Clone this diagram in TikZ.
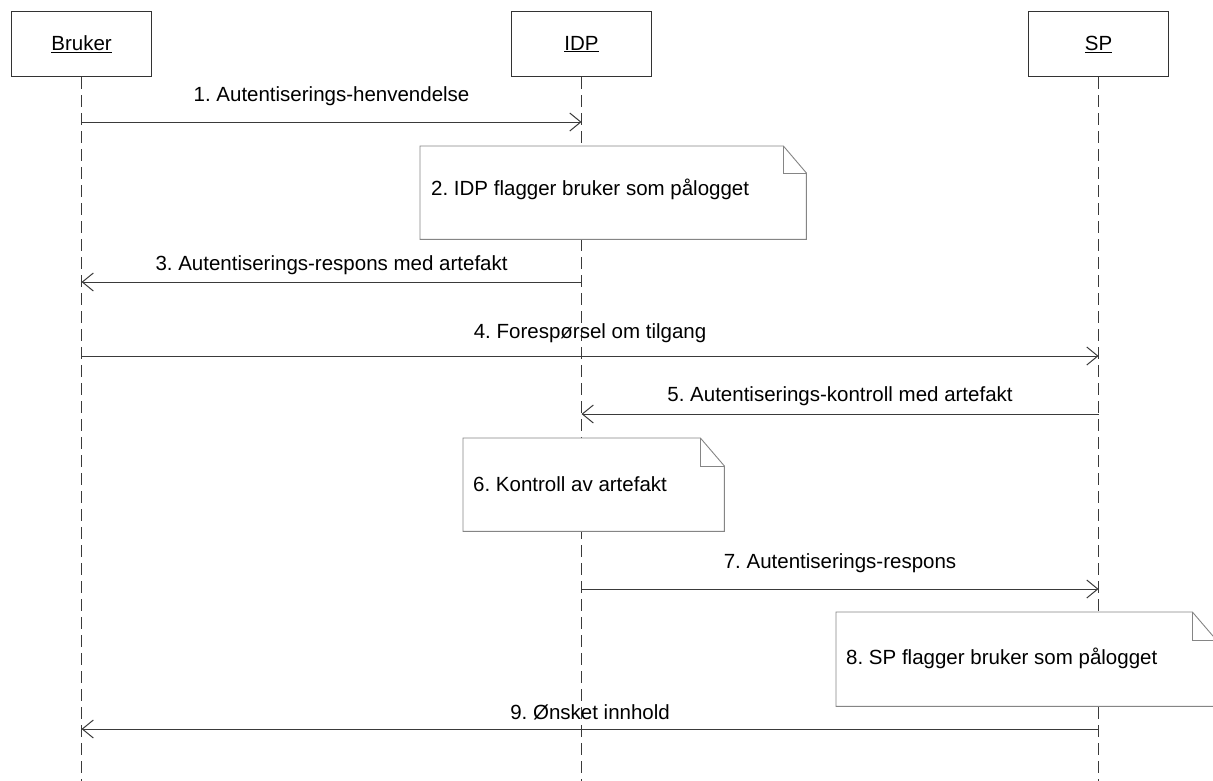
\documentclass[tikz,border=0pt]{standalone}
\usepackage{fontspec}
\setmainfont{Liberation Sans}
\usetikzlibrary{arrows.meta}
\frenchspacing
\definecolor{boxline}{HTML}{333333}
\definecolor{msgline}{HTML}{3A3A3A}
\definecolor{noteline}{HTML}{858585}
\newcommand\labelfont{\fontsize{20.5}{24}\selectfont}
\tikzset{
  actor/.style={draw=boxline, line width=1.1pt, fill=white, minimum width=140pt,
    minimum height=65pt, anchor=north west, inner sep=0pt, font=\fontsize{20.5}{24}\selectfont},
  lifeline/.style={draw=msgline, line width=1pt, dash pattern=on 12pt off 6pt},
  msg/.style={draw=msgline, line width=1pt, -{Straight Barb[length=11pt,width=18pt,line width=1pt]}},
  msglabel/.style={anchor=base, inner sep=0pt, font=\labelfont},
  notearea/.style={minimum width=#1, anchor=north west, inner sep=0pt},
  notetext/.style={anchor=base west, inner sep=0pt, font=\labelfont},
  noteedge/.style={draw=noteline, line width=0.9pt, fill=white, line join=miter},
}
\begin{document}
\begin{tikzpicture}[x=1pt, y=-1pt]
\useasboundingbox (0,0) rectangle (1213,780);
\clip (0,0) rectangle (1213,780);

% participants
\node[actor] (bruker) at (11,11) {\underline{Bruker}};
\node[actor] (idp) at (511,11) {\underline{IDP}};
\node[actor] (sp) at (1028,11) {\underline{SP}};

% lifeline ends
\coordinate (end) at (0,782);
\draw[lifeline] (bruker.south) -- (bruker |- end);
\draw[lifeline] (idp.south) -- (idp |- end);
\draw[lifeline] (sp.south) -- (sp |- end);

% notes
\node[notearea=386pt, minimum height=93pt] (n2) at (420,146) {};
\node[notearea=261pt, minimum height=93pt] (n6) at (463,438) {};
\node[notearea=380pt, minimum height=94pt] (n8) at (836,612) {};
\foreach \n/\fx/\fy in {n2/23/27, n6/24/28, n8/24/28}{
  \draw[noteedge] (\n.north west) -- ([xshift=-\fx pt]\n.north east)
    -- ([yshift=-\fy pt]\n.north east) -- (\n.south east) -- (\n.south west) -- cycle;
  \draw[noteedge, fill=none] ([xshift=-\fx pt]\n.north east)
    |- ([yshift=-\fy pt]\n.north east);
}
\node[notetext] (t2) at (431,195) {2. IDP flagger bruker som pålogget};
\node[notetext] (t6) at (473,491) {6. Kontroll av artefakt};
\node[notetext] (t8) at (846,664) {8. SP flagger bruker som pålogget};

% message rows
\coordinate (y1) at (0,122);
\coordinate (y3) at (0,282);
\coordinate (y4) at (0,356);
\coordinate (y5) at (0,414);
\coordinate (y7) at (0,589);
\coordinate (y9) at (0,729);

\draw[msg] (bruker |- y1) -- (idp |- y1);
\draw[msg] (idp |- y3) -- (bruker |- y3);
\draw[msg] (bruker |- y4) -- (sp |- y4);
\draw[msg] (sp |- y5) -- (idp |- y5);
\draw[msg] (idp |- y7) -- (sp |- y7);
\draw[msg] (sp |- y9) -- (bruker |- y9);

% labels, centred over their arrows
\path (bruker) -- (idp) coordinate[pos=0.5] (cbi);
\path (bruker) -- (sp) coordinate[pos=0.5] (cbs);
\path (idp) -- (sp) coordinate[pos=0.5] (cis);
\node[msglabel] (l1) at (cbi |- 0,101) {1. Autentiserings-henvendelse};
\node[msglabel] (l3) at (cbi |- 0,270) {3. Autentiserings-respons med artefakt};
\node[msglabel] (l4) at (cbs |- 0,338) {4. Forespørsel om tilgang};
\node[msglabel] (l5) at (cis |- 0,401) {5. Autentiserings-kontroll med artefakt};
\node[msglabel] (l7) at (cis |- 0,568) {7. Autentiserings-respons};
\node[msglabel] (l9) at (cbs |- 0,719) {9. Ønsket innhold};
\end{tikzpicture}
\end{document}
